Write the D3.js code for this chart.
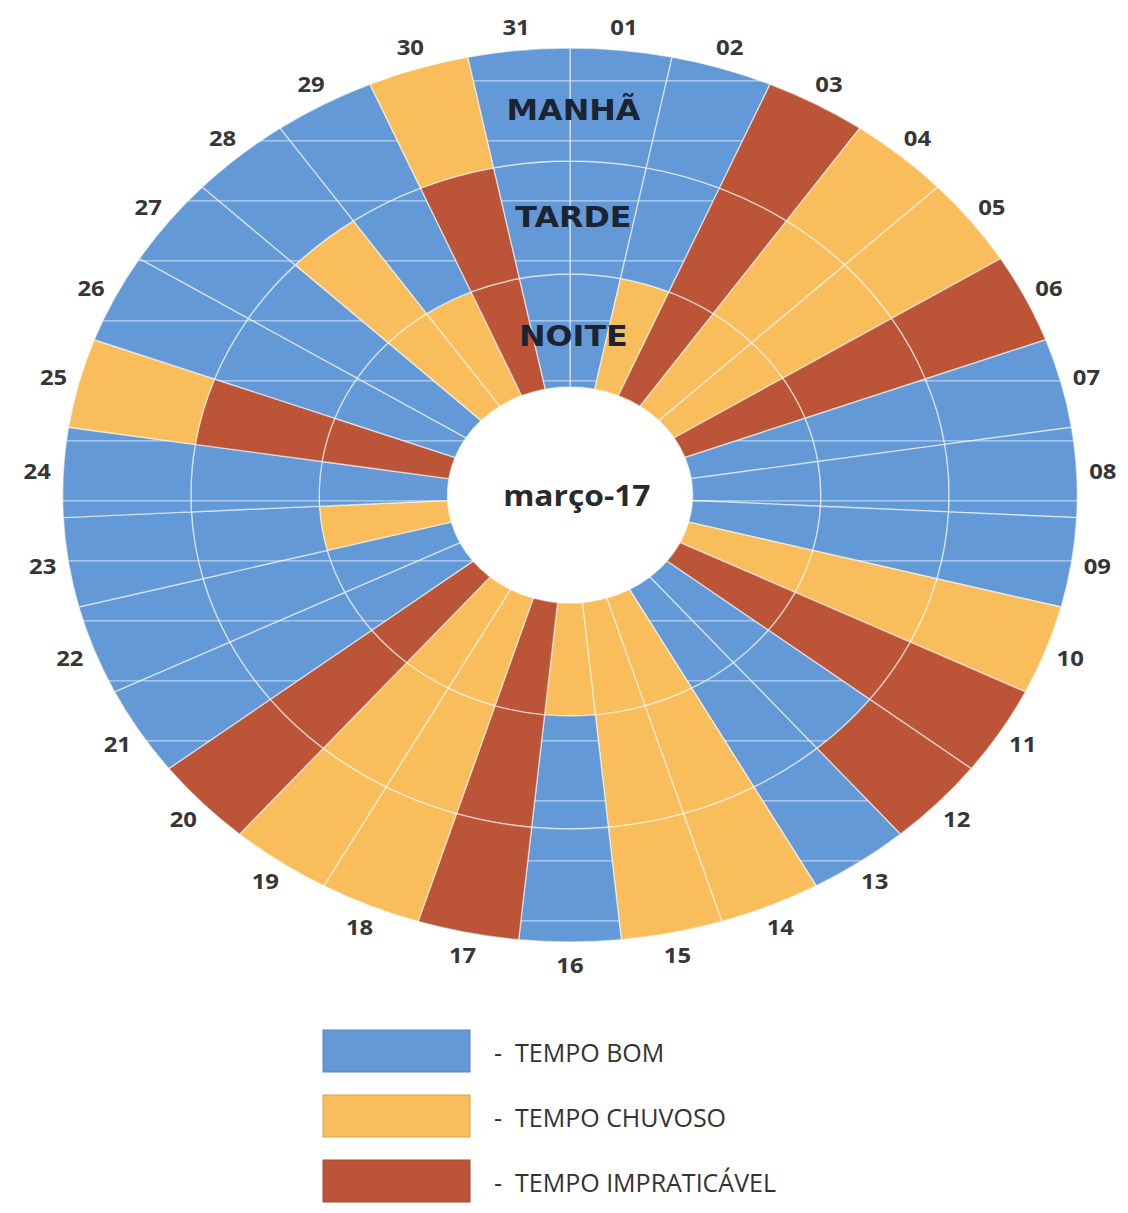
<!DOCTYPE html>
<html>
<head>
<meta charset="utf-8">
<script src="https://cdn.jsdelivr.net/npm/d3@7"></script>
<style>
  html, body { margin: 0; padding: 0; background: #ffffff; }
  svg { display: block; }
</style>
</head>
<body>
<svg id="chart" width="1128" height="1213"></svg>
<script>
// ---------- DATA ----------
const days = ["01","02","03","04","05","06","07","08","09","10","11","12","13","14","15","16",
              "17","18","19","20","21","22","23","24","25","26","27","28","29","30","31"];
// B = tempo bom, C = tempo chuvoso, I = tempo impraticável
const manha = ["B","B","I","C","C","I","B","B","B","C","I","I","B","C","C","B",
               "I","C","C","I","B","B","B","B","C","B","B","B","B","C","B"];
const tarde = ["B","B","I","C","C","I","B","B","B","C","I","B","B","C","C","B",
               "I","C","C","I","B","B","B","B","I","B","B","C","B","I","B"];
const noite = ["B","C","I","C","C","I","B","B","B","C","I","B","B","C","C","C",
               "I","C","C","I","B","B","C","B","I","B","B","C","C","I","B"];
const periods = ["NOITE", "TARDE", "MANHÃ"];          // inner -> outer
const periodValues = { "NOITE": noite, "TARDE": tarde, "MANHÃ": manha };
const codes = ["B", "C", "I"];
const categories = ["TEMPO BOM", "TEMPO CHUVOSO", "TEMPO IMPRATICÁVEL"];
const colors = ["#6399d6", "#f9bd5c", "#bc5537"];
const centerLabel = "março-17";

// ---------- LAYOUT ----------
const svg = d3.select("#chart");
const cx = 570, cy = 495, stretchX = 1.135;
const innerR = 108, outerR = 447, labelR = 470;

const angle = d3.scaleBand().domain(days).range([0, 2 * Math.PI]).padding(0);
const ring = d3.scaleBand().domain(periods).range([innerR, outerR]).padding(0);
const color = d3.scaleOrdinal().domain(codes).range(colors);

// stripe pattern that shows in the blue cells of the reference
const defs = svg.append("defs");
const pat = defs.append("pattern")
  .attr("id", "blueStripe")
  .attr("patternUnits", "userSpaceOnUse")
  .attr("width", 200).attr("height", 60)
  .attr("y", 5);
pat.append("rect").attr("width", 200).attr("height", 60).attr("fill", color("B"));
pat.append("rect").attr("y", 0).attr("width", 200).attr("height", 1.6)
  .attr("fill", "rgba(215,232,252,0.55)");

const g = svg.append("g")
  .attr("transform", `translate(${cx},${cy}) scale(${stretchX},1)`);

const cells = [];
periods.forEach(p => {
  periodValues[p].forEach((v, i) => cells.push({ period: p, day: days[i], value: v }));
});

const arc = d3.arc()
  .innerRadius(d => ring(d.period))
  .outerRadius(d => ring(d.period) + ring.bandwidth())
  .startAngle(d => angle(d.day))
  .endAngle(d => angle(d.day) + angle.bandwidth());

g.append("g").selectAll("path")
  .data(cells)
  .join("path")
  .attr("d", arc)
  .attr("fill", d => d.value === "B" ? "url(#blueStripe)" : color(d.value))
  .attr("stroke", "rgba(255,255,255,0.55)")
  .attr("stroke-width", 1.4)
  .attr("vector-effect", "non-scaling-stroke");

// ring labels (stacked at the top)
g.append("g").selectAll("text")
  .data(periods)
  .join("text")
  .attr("x", 3)
  .attr("y", d => -(ring(d) + ring.bandwidth() / 2) + (d === "MANHÃ" ? 6 : d === "NOITE" ? 6 : 0))
  .attr("text-anchor", "middle")
  .attr("dominant-baseline", "central")
  .attr("font-family", "'DejaVu Sans', sans-serif")
  .attr("font-weight", "bold")
  .attr("font-size", 28)
  .attr("fill", "#1b2433")
  .text(d => d);

// day labels
g.append("g").selectAll("text")
  .data(days)
  .join("text")
  .attr("transform", d => {
    const a = angle(d) + angle.bandwidth() / 2;
    return `translate(${labelR * Math.sin(a)},${-labelR * Math.cos(a)})`;
  })
  .attr("text-anchor", "middle")
  .attr("dominant-baseline", "central")
  .attr("font-family", "'Open Sans', sans-serif")
  .attr("font-weight", "bold")
  .attr("font-size", 21)
  .attr("fill", "#363636")
  .text(d => d);

// center label
g.append("text")
  .attr("x", 6).attr("y", 0)
  .attr("text-anchor", "middle")
  .attr("dominant-baseline", "central")
  .attr("font-family", "'Open Sans', sans-serif")
  .attr("font-weight", "bold")
  .attr("font-size", 28)
  .attr("fill", "#2a2a2a")
  .text(centerLabel);

// ---------- LEGEND ----------
const ly = d3.scalePoint().domain(categories).range([1051, 1181]);
const legend = svg.append("g");
const item = legend.selectAll("g")
  .data(categories)
  .join("g")
  .attr("transform", d => `translate(0,${ly(d)})`);
item.append("rect")
  .attr("x", 323).attr("y", -21)
  .attr("width", 147).attr("height", 42)
  .attr("fill", (d, i) => colors[i])
  .attr("stroke", (d, i) => d3.color(colors[i]).darker(0.4))
  .attr("stroke-width", 1);
item.append("text")
  .attr("x", 494).attr("y", 1)
  .attr("dominant-baseline", "central")
  .attr("font-family", "'Open Sans', sans-serif")
  .attr("font-size", 25)
  .attr("fill", "#333")
  .text("-");
item.append("text")
  .attr("x", 515).attr("y", 1)
  .attr("dominant-baseline", "central")
  .attr("font-family", "'Open Sans', sans-serif")
  .attr("font-size", 25)
  .attr("fill", "#333")
  .text(d => d);
</script>
</body>
</html>
